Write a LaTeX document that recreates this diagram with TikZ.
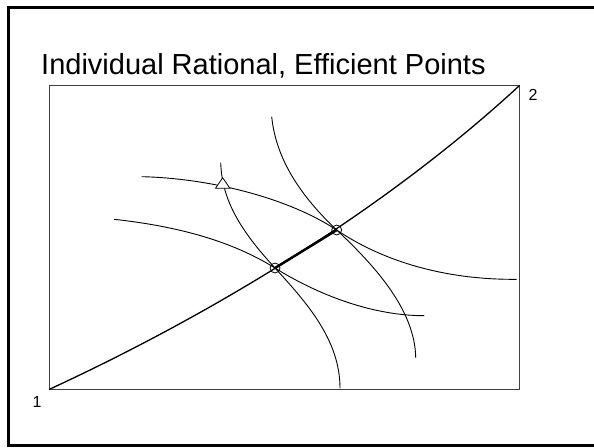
\documentclass[tikz,border=0pt]{standalone}
\usepackage{fontspec}
\setmainfont{Liberation Sans}
\usetikzlibrary{shapes.geometric}
\begin{document}
\begin{tikzpicture}[x=1pt,y=-1pt,
  icurve/.style={line width=0.9pt, black},
  ptmark/.style={circle, draw, line width=0.8pt, inner sep=0pt, minimum width=10pt, minimum height=9pt},
  trimark/.style={isosceles triangle, isosceles triangle stretches, shape border rotate=90, draw, fill=white, line width=0.8pt, inner sep=0pt, minimum height=10.5pt, minimum width=14.5pt},
  lbl/.style={inner sep=0pt, font=\fontsize{16}{18}\selectfont}]
\useasboundingbox (0,0) rectangle (594,447);
\fill[white] (0,0) rectangle (594,447);
% outer frame
\draw[line width=3pt] (600,7) -- (8.5,7) -- (8.5,445) -- (600,445);
% title
\node[anchor=base west, inner sep=0pt, font=\fontsize{29}{34}\selectfont] (title) at (41,74) {Individual Rational, Efficient Points};
% box
\draw[line width=1pt, black!75] (49,85.5) rectangle (519.5,389.5);
\coordinate (o1) at (49,389.5);
\coordinate (o2) at (519.5,85.5);
\node[lbl] (l1) at (37,401.5) {1};
\node[lbl] (l2) at (533,94.5) {2};
% contract curve
\draw[line width=1.3pt] (o1) .. controls (236,303) and (400,196) .. (o2);
% key coordinates
\coordinate (q1) at (275,268);
\coordinate (q2) at (336.7,230);
% indifference curves
\draw[icurve] (220.7,162.7) .. controls (222,200) and (240,230) .. (q1)
              .. controls (307,303) and (340,340) .. (340,388.3);
\draw[icurve] (271.7,116.7) .. controls (276,160) and (301.7,197) .. (q2)
              .. controls (375,266) and (415,310) .. (415.7,357.7);
\draw[icurve] (141.7,176.7) .. controls (205,178) and (285,196) .. (q2)
              .. controls (384,262) and (446.7,280) .. (516.7,279.3);
\draw[icurve] (114,219.3) .. controls (175,226) and (230,240) .. (q1)
              .. controls (315,293) and (370,315.7) .. (424.3,315.7);
% points
\node[ptmark] (p1) at (q1) {};
\node[ptmark] (p2) at (q2) {};
\draw[line width=2.5pt] (p1.center) -- (p2.center);
\node[trimark] (tri) at (222.7,184.5) {};
\end{tikzpicture}
\end{document}
